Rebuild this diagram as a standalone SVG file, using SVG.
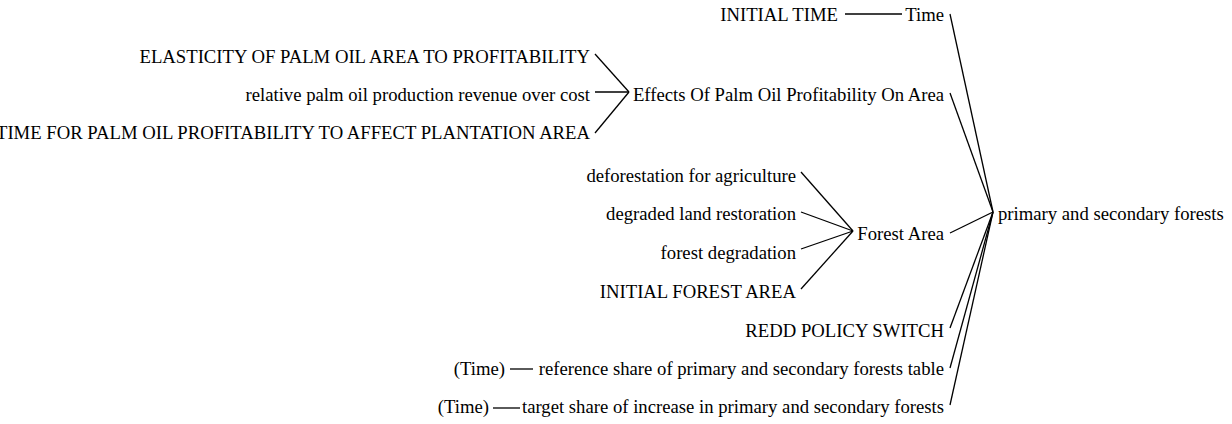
<svg xmlns="http://www.w3.org/2000/svg" width="1232" height="424" viewBox="0 0 1232 424">
<style>
text{font-family:"Liberation Serif",serif;font-size:18.7px;fill:#000}
.e{text-anchor:end}
.c line{stroke:#000;stroke-width:1.3;fill:none}
</style>
<rect width="1232" height="424" fill="#fff"/>
<g class="c" id="connectors">
<line x1="845" y1="14" x2="902" y2="14"/>
<line x1="950" y1="14" x2="993" y2="212"/>
<line x1="595" y1="54" x2="629" y2="92"/>
<line x1="595" y1="92" x2="629" y2="92"/>
<line x1="595" y1="133" x2="629" y2="92"/>
<line x1="950" y1="93" x2="993" y2="212"/>
<line x1="801" y1="172" x2="853" y2="231"/>
<line x1="801" y1="212" x2="853" y2="231"/>
<line x1="801" y1="249" x2="853" y2="231"/>
<line x1="801" y1="289" x2="853" y2="231"/>
<line x1="950" y1="233" x2="993" y2="212"/>
<line x1="950" y1="328" x2="993" y2="212"/>
<line x1="950" y1="368" x2="993" y2="212"/>
<line x1="950" y1="405" x2="993" y2="212"/>
<line x1="510" y1="369" x2="533" y2="369"/>
<line x1="493" y1="408" x2="520" y2="408"/>
</g>
<g id="initial-time"><text class="e" x="838" y="21">INITIAL TIME</text></g>
<g id="time"><text class="e" x="944" y="21">Time</text></g>
<g id="elasticity"><text class="e" x="590" y="63">ELASTICITY OF PALM OIL AREA TO PROFITABILITY</text></g>
<g id="relative"><text class="e" x="590" y="101">relative palm oil production revenue over cost</text></g>
<g id="time-for"><text class="e" x="590" y="139">TIME FOR PALM OIL PROFITABILITY TO AFFECT PLANTATION AREA</text></g>
<g id="effects"><text class="e" x="944" y="101">Effects Of Palm Oil Profitability On Area</text></g>
<g id="deforestation"><text class="e" x="796" y="182">deforestation for agriculture</text></g>
<g id="degraded"><text class="e" x="796" y="220">degraded land restoration</text></g>
<g id="forest-degradation"><text class="e" x="796" y="259">forest degradation</text></g>
<g id="initial-forest"><text class="e" x="796" y="298">INITIAL FOREST AREA</text></g>
<g id="forest-area"><text class="e" x="944" y="240">Forest Area</text></g>
<g id="primary"><text x="998" y="220">primary and secondary forests</text></g>
<g id="redd"><text class="e" x="944" y="337">REDD POLICY SWITCH</text></g>
<g id="time-ref"><text class="e" x="505" y="375">(Time)</text></g>
<g id="reference"><text class="e" x="944" y="375">reference share of primary and secondary forests table</text></g>
<g id="time-target"><text class="e" x="489" y="413">(Time)</text></g>
<g id="target"><text class="e" x="944" y="413">target share of increase in primary and secondary forests</text></g>
</svg>
